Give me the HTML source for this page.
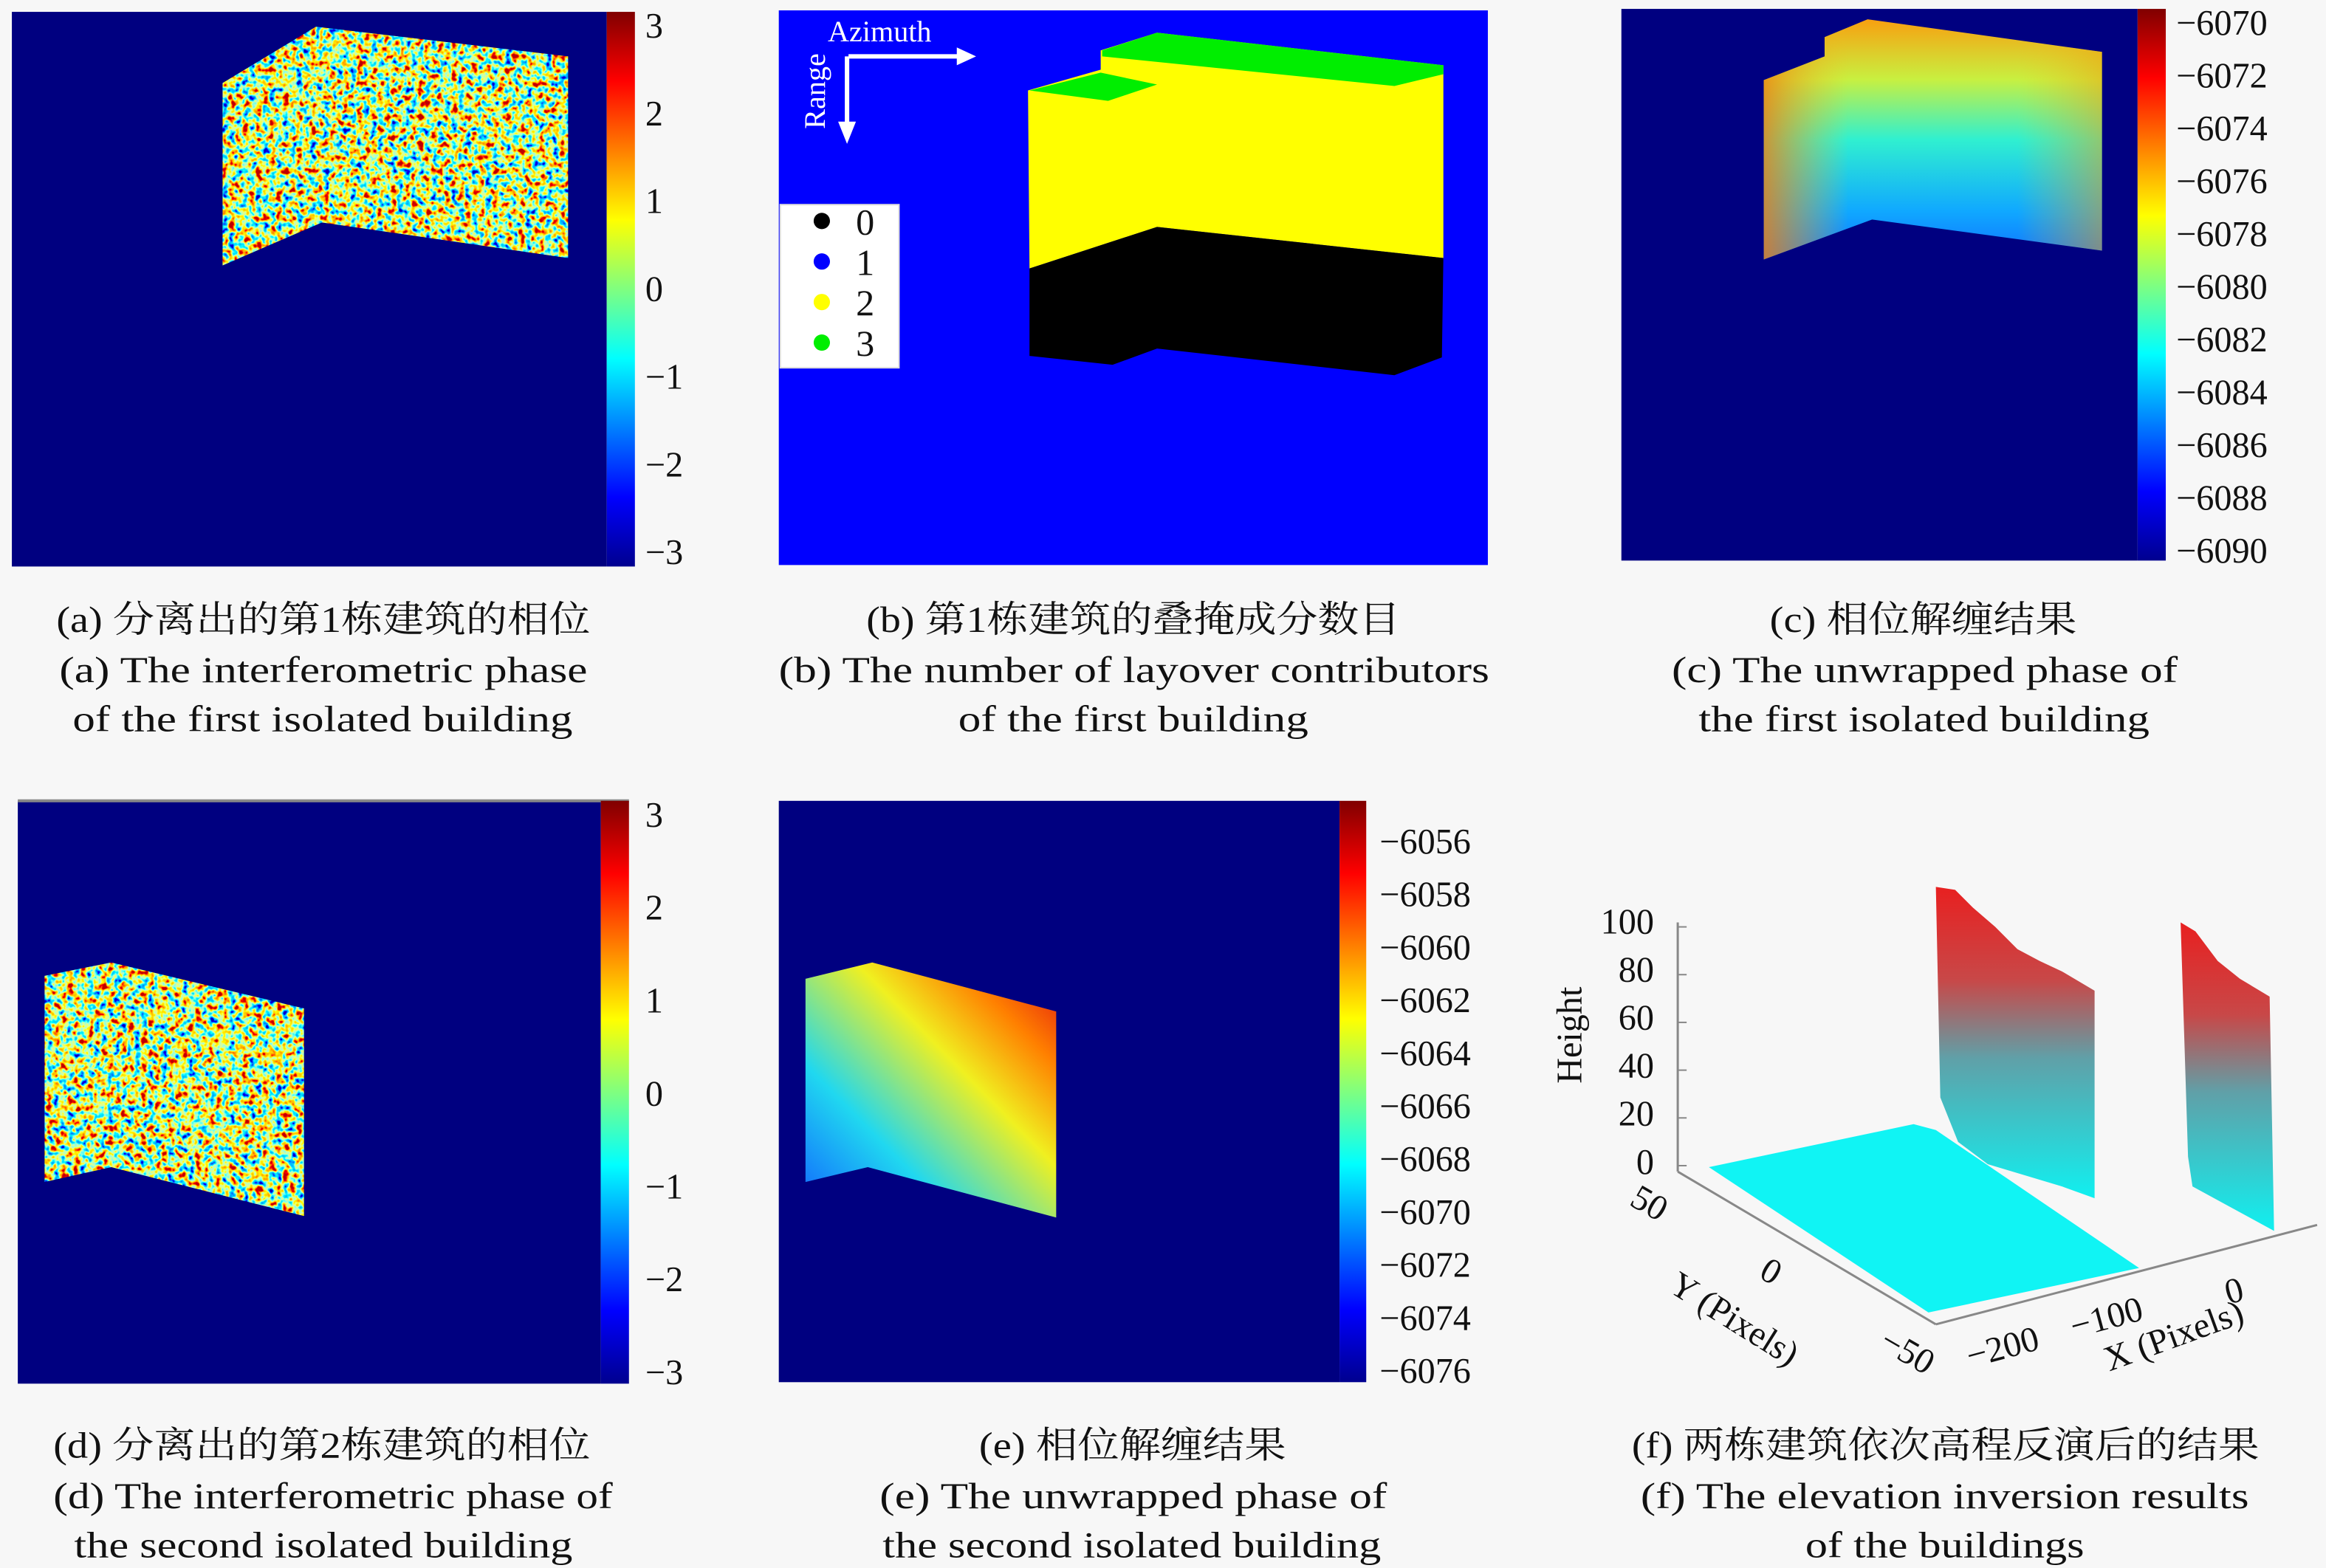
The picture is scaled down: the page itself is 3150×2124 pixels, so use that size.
<!DOCTYPE html>
<html><head><meta charset="utf-8">
<style>
html,body{margin:0;padding:0;background:#f7f7f7;}
svg{display:block;}
text{font-family:"Liberation Serif","Noto Serif CJK SC",serif;fill:#111;}
</style></head>
<body>
<svg id="fig" width="3150" height="2124" viewBox="0 0 1568 1057.3" preserveAspectRatio="none" xmlns="http://www.w3.org/2000/svg">
<defs>
<linearGradient id="jetV" x1="0" y1="1" x2="0" y2="0">
<stop offset="0" stop-color="#00008f"/><stop offset="0.125" stop-color="#0000ff"/><stop offset="0.375" stop-color="#00ffff"/><stop offset="0.625" stop-color="#ffff00"/><stop offset="0.875" stop-color="#ff0000"/><stop offset="1" stop-color="#800000"/>
</linearGradient>
<filter id="noise" x="0" y="0" width="100%" height="100%">
<feTurbulence type="fractalNoise" baseFrequency="0.22" numOctaves="2" seed="3"/>
<feColorMatrix type="matrix" values="1.7 0 0 0 -0.3  1.7 0 0 0 -0.3  1.7 0 0 0 -0.3  0 0 0 0 1"/>
<feComponentTransfer>
<feFuncR type="table" tableValues="0 0 0 0 0.5 1 1 1 0.5"/>
<feFuncG type="table" tableValues="0 0 0.5 1 1 1 0.5 0 0"/>
<feFuncB type="table" tableValues="0.5 1 1 1 0.5 0 0 0 0"/>
</feComponentTransfer>
</filter>
<linearGradient id="gradC" x1="0" y1="0" x2="0" y2="1">
<stop offset="0" stop-color="#f8a010"/><stop offset="0.25" stop-color="#c8f040"/><stop offset="0.5" stop-color="#30f0d0"/><stop offset="0.8" stop-color="#10a8ff"/><stop offset="1" stop-color="#1070ff"/>
</linearGradient>
<linearGradient id="gradCside" x1="0" y1="0" x2="1" y2="0">
<stop offset="0" stop-color="#f08010" stop-opacity="0.8"/><stop offset="0.25" stop-color="#f0c020" stop-opacity="0"/><stop offset="0.75" stop-color="#f0c020" stop-opacity="0"/><stop offset="1" stop-color="#f0a010" stop-opacity="0.5"/>
</linearGradient>
<linearGradient id="gradE" x1="0" y1="1" x2="1" y2="0">
<stop offset="0" stop-color="#1060ff"/><stop offset="0.3" stop-color="#20d8f0"/><stop offset="0.6" stop-color="#f0f020"/><stop offset="0.8" stop-color="#ff8000"/><stop offset="1" stop-color="#e01010"/>
</linearGradient>
<linearGradient id="gradF" x1="0" y1="0" x2="0" y2="1">
<stop offset="0" stop-color="#e82020"/><stop offset="0.3" stop-color="#c84848"/><stop offset="0.55" stop-color="#60a0a8"/><stop offset="1" stop-color="#10f0f0"/>
</linearGradient>
<clipPath id="clipA"><polygon points="150,56 213,18 383,38 383,174 217,150 150,179"/></clipPath>
<clipPath id="clipD"><polygon points="30,658 75,649 205,680 205,820 75,787 30,797"/></clipPath>
</defs>

<g>
<rect x="8" y="8" width="401" height="374" fill="#000080"/>
<g clip-path="url(#clipA)"><rect x="150" y="18" width="233" height="161" filter="url(#noise)"/></g>
<rect x="409" y="8" width="19" height="374" fill="url(#jetV)"/>
<g id="ticksA"></g>
</g>

<g>
<rect x="525" y="7" width="478" height="374" fill="#0000ff"/>
<polygon points="693,61 742,47 742,34 780,22 973,44 973,174 780,153 694,181" fill="#ffff00"/>
<polygon points="743,34 780,22 973,44 973,50 940,58 743,38" fill="#00ee00"/>
<polygon points="694,61 742,49 780,57 747,68" fill="#00ee00"/>
<polygon points="694,181 780,153 973,174 972,241 940,253 780,235 750,246 694,240" fill="#000000"/>
<g>
<line x1="572" y1="38" x2="648" y2="38" stroke="#fff" stroke-width="3"/>
<polygon points="645,32 658,38 645,44" fill="#fff"/>
<line x1="571" y1="38" x2="571" y2="85" stroke="#fff" stroke-width="3"/>
<polygon points="565,82 571,97 577,82" fill="#fff"/>
<text x="558" y="28" font-size="20" style="fill:#fff">Azimuth</text>
<text transform="translate(556,87) rotate(-90)" font-size="20" style="fill:#fff">Range</text>
</g>
<g>
<rect x="526" y="138" width="80" height="110" fill="#fff" stroke="#ddd" stroke-width="1"/>
<g id="legendB"></g>
</g>
</g>

<g>
<rect x="1093" y="6" width="348" height="372" fill="#000080"/>
<polygon points="1189,54 1230,38 1230,25 1259,13 1417,35 1417,169 1262,148 1189,175" fill="url(#gradC)"/>
<polygon points="1189,54 1230,38 1230,25 1259,13 1417,35 1417,169 1262,148 1189,175" fill="url(#gradCside)"/>
<rect x="1441" y="6" width="19" height="372" fill="url(#jetV)"/>
<g id="ticksC"></g>
</g>

<g>
<rect x="12" y="540" width="393" height="393" fill="#000080"/>
<line x1="12" y1="540" x2="424" y2="540" stroke="#888" stroke-width="2"/>
<g clip-path="url(#clipD)"><rect x="30" y="649" width="175" height="171" filter="url(#noise)"/></g>
<rect x="405" y="540" width="19" height="393" fill="url(#jetV)"/>
<g id="ticksD"></g>
</g>

<g>
<rect x="525" y="540" width="378" height="392" fill="#000080"/>
<polygon points="543,660 588,649 712,682 712,821 585,787 543,797" fill="url(#gradE)"/>
<rect x="903" y="540" width="18" height="392" fill="url(#jetV)"/>
<g id="ticksE"></g>
</g>

<g>
<g stroke="#888" stroke-width="1.5" fill="none">
<line x1="1131" y1="622" x2="1131" y2="790"/>
<line x1="1131" y1="790" x2="1305" y2="893"/>
<line x1="1305" y1="893" x2="1562" y2="826"/>
</g>
<g id="ticksF"></g>
<polygon points="1152,787 1290,758 1305,762 1442,855 1300,885" fill="#10f4f4"/>
<polygon points="1305,598 1318,600 1330,612 1345,625 1360,640 1375,648 1390,655 1412,668 1412,808 1390,800 1340,785 1320,770 1308,740" fill="url(#gradF)"/>
<polygon points="1470,622 1480,628 1495,648 1510,660 1530,672 1533,830 1500,812 1478,800 1475,780" fill="url(#gradF)"/>
<text transform="translate(1066,698) rotate(-90)" font-size="24" text-anchor="middle">Height</text>
<text transform="translate(1108,818) rotate(30)" font-size="24" text-anchor="middle">50</text>
<text transform="translate(1190,864) rotate(30)" font-size="24" text-anchor="middle">0</text>
<text transform="translate(1282,918) rotate(30)" font-size="24" text-anchor="middle">−50</text>
<text transform="translate(1352,916) rotate(-15)" font-size="24" text-anchor="middle">−200</text>
<text transform="translate(1422,896) rotate(-15)" font-size="24" text-anchor="middle">−100</text>
<text transform="translate(1508,878) rotate(-15)" font-size="24" text-anchor="middle">0</text>
<text transform="translate(1165,896) rotate(32)" font-size="24" text-anchor="middle">Y (Pixels)</text>
<text transform="translate(1468,908) rotate(-20)" font-size="24" text-anchor="middle">X (Pixels)</text>
</g>

<g font-size="25">
<text x="38" y="426" textLength="360" lengthAdjust="spacingAndGlyphs">(a) 分离出的第1栋建筑的相位</text>
<text x="40" y="460" textLength="356" lengthAdjust="spacingAndGlyphs">(a) The interferometric phase</text>
<text x="49" y="493" textLength="337" lengthAdjust="spacingAndGlyphs">of the first isolated building</text>
<text x="584" y="426" textLength="360" lengthAdjust="spacingAndGlyphs">(b) 第1栋建筑的叠掩成分数目</text>
<text x="525" y="460" textLength="479" lengthAdjust="spacingAndGlyphs">(b) The number of layover contributors</text>
<text x="646" y="493" textLength="236" lengthAdjust="spacingAndGlyphs">of the first building</text>
<text x="1193" y="426" textLength="207" lengthAdjust="spacingAndGlyphs">(c) 相位解缠结果</text>
<text x="1127" y="460" textLength="341" lengthAdjust="spacingAndGlyphs">(c) The unwrapped phase of</text>
<text x="1145" y="493" textLength="304" lengthAdjust="spacingAndGlyphs">the first isolated building</text>
<text x="36" y="983" textLength="362" lengthAdjust="spacingAndGlyphs">(d) 分离出的第2栋建筑的相位</text>
<text x="36" y="1017" textLength="377" lengthAdjust="spacingAndGlyphs">(d) The interferometric phase of</text>
<text x="50" y="1050" textLength="336" lengthAdjust="spacingAndGlyphs">the second isolated building</text>
<text x="660" y="983" textLength="207" lengthAdjust="spacingAndGlyphs">(e) 相位解缠结果</text>
<text x="593" y="1017" textLength="342" lengthAdjust="spacingAndGlyphs">(e) The unwrapped phase of</text>
<text x="595" y="1050" textLength="336" lengthAdjust="spacingAndGlyphs">the second isolated building</text>
<text x="1100" y="983" textLength="423" lengthAdjust="spacingAndGlyphs">(f) 两栋建筑依次高程反演后的结果</text>
<text x="1106" y="1017" textLength="410" lengthAdjust="spacingAndGlyphs">(f) The elevation inversion results</text>
<text x="1217" y="1050" textLength="188" lengthAdjust="spacingAndGlyphs">of the buildings</text>
</g>
</svg>
<script>
const ticksPhase = [3, 2, 1, 0, -1, -2, -3];
const ticksUnwrapC = [-6070, -6072, -6074, -6076, -6078, -6080, -6082, -6084, -6086, -6088, -6090];
const ticksUnwrapE = [-6056, -6058, -6060, -6062, -6064, -6066, -6068, -6070, -6072, -6074, -6076];
const ticksHeight = [100, 80, 60, 40, 20, 0];
const legendValues = [0, 1, 2, 3];
const legendColors = ['#000000', '#0000ff', '#ffff00', '#00ee00'];

const NS = 'http://www.w3.org/2000/svg';
function fmt(v){ return v < 0 ? '−' + Math.abs(v) : String(v); }
function axis(v0, v1, p0, p1){ return v => p0 + (v - v0) / (v1 - v0) * (p1 - p0); }

function drawTicks(gid, vals, v0, v1, p0, p1, x, anchor, size){
  const g = document.getElementById(gid);
  const sc = axis(v0, v1, p0, p1);
  vals.forEach(v => {
    const t = document.createElementNS(NS, 'text');
    t.setAttribute('x', x);
    t.setAttribute('y', sc(v) + size * 0.35);
    t.setAttribute('font-size', size);
    t.setAttribute('text-anchor', anchor);
    t.textContent = fmt(v);
    
    
    g.appendChild(t);
  });
}
drawTicks('ticksA', ticksPhase, 3, -3, 17, 372, 435, 'start', 24);
drawTicks('ticksC', ticksUnwrapC, -6070, -6090, 15, 371, 1467, 'start', 24);
drawTicks('ticksD', ticksPhase, 3, -3, 549, 925, 435, 'start', 24);
drawTicks('ticksE', ticksUnwrapE, -6056, -6076, 567, 924, 930, 'start', 24);
drawTicks('ticksF', ticksHeight, 100, 0, 621, 783, 1115, 'end', 24);

(function(){
  const g = document.getElementById('ticksF');
  const sc = axis(100, 0, 625, 786);
  ticksHeight.forEach(v => {
    const l = document.createElementNS(NS, 'line');
    l.setAttribute('x1', 1131); l.setAttribute('x2', 1137);
    l.setAttribute('y1', sc(v)); l.setAttribute('y2', sc(v));
    l.setAttribute('stroke', '#888');
    
    
    g.appendChild(l);
  });
})();

(function(){
  const g = document.getElementById('legendB');
  const sc = axis(0, 3, 149, 231);
  legendValues.forEach((v, i) => {
    const c = document.createElementNS(NS, 'circle');
    c.setAttribute('cx', 554); c.setAttribute('cy', sc(v));
    c.setAttribute('r', 5.5); c.setAttribute('fill', legendColors[i]);
    
    
    g.appendChild(c);
    const t = document.createElementNS(NS, 'text');
    t.setAttribute('x', 577); t.setAttribute('y', sc(v) + 9);
    t.setAttribute('font-size', 25);
    t.textContent = String(v);
    
    
    g.appendChild(t);
  });
})();
</script>
</body></html>
